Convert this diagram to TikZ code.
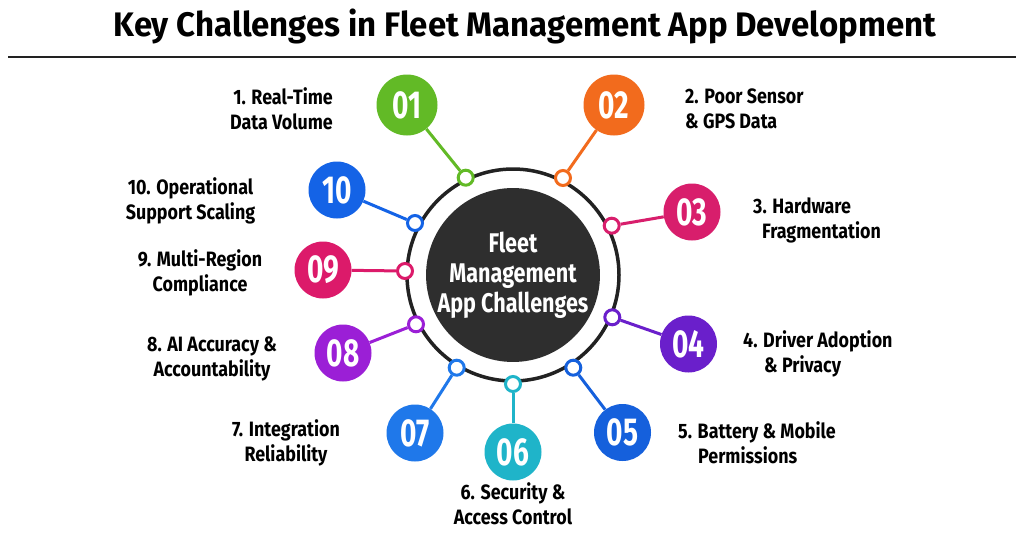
\documentclass[tikz,border=0pt]{standalone}
\usepackage{fontspec}
\newfontfamily\lblf{Fira Sans}[FakeStretch=0.86]
\newfontfamily\numf{Fira Sans}[FakeStretch=0.72]
\newfontfamily\ttlf{Fira Sans}[FakeStretch=0.97]
\newfontfamily\ctrf{Fira Sans}[FakeStretch=0.8]
\definecolor{cA}{HTML}{62BA26}
\definecolor{cB}{HTML}{F26B1D}
\definecolor{cC}{HTML}{D81E6C}
\definecolor{cD}{HTML}{6A1FCB}
\definecolor{cE}{HTML}{1560DC}
\definecolor{cF}{HTML}{1FB4C9}
\definecolor{cG}{HTML}{1F78EA}
\definecolor{cH}{HTML}{9B1FD6}
\definecolor{cI}{HTML}{DC1A6A}
\definecolor{cJ}{HTML}{1463E6}
\definecolor{darkc}{HTML}{2E2E2E}
\definecolor{ringc}{HTML}{222222}
\begin{document}
\begin{tikzpicture}[x=1pt,y=-1pt,
  bignum/.style={circle, inner sep=0pt, minimum size=57pt, text=white,
    font=\numf\bfseries\fontsize{39}{39}\selectfont},
  dot/.style={circle, draw, fill=white, line width=3pt, inner sep=0pt, minimum size=15pt},
  link/.style={line width=3pt},
  lbl/.style={font=\lblf\bfseries\fontsize{20.8}{25}\selectfont, text=black, inner sep=0pt}]
\useasboundingbox (0,0) rectangle (1024,535);
\fill[white] (0,0) rectangle (1024,535);

% title
\node[anchor=base, inner sep=0pt, font=\ttlf\bfseries\fontsize{34}{34}\selectfont] (title) at (525,37)
  {Key Challenges in Fleet Management App Development};
\coordinate (rl) at (8,57);
\coordinate (rr) at (1016,57);
\draw[line width=2pt, ringc] (rl) -- (rr);

% centre
\coordinate (ctr) at (513,275);
\node[circle, draw=ringc, line width=3.5pt, minimum size=212pt, inner sep=0pt] (ring) at (ctr) {};

% small dots
\node[dot, draw=cA] (s1) at (465.7,177.7) {};
\node[dot, draw=cB] (s2) at (563,178) {};
\node[dot, draw=cC] (s3) at (611.7,225.7) {};
\node[dot, draw=cD] (s4) at (612.3,317.3) {};
\node[dot, draw=cE] (s5) at (573.3,367.7) {};
\node[dot, draw=cF] (s6) at (513,384) {};
\node[dot, draw=cG] (s7) at (456.7,367.7) {};
\node[dot, draw=cH] (s8) at (416,324.3) {};
\node[dot, draw=cI] (s9) at (405,271) {};
\node[dot, draw=cJ] (s10) at (415,223) {};

% big number circles
\node[bignum, fill=cA, minimum size=61pt] (b1) at (407,105) {01};
\node[bignum, fill=cB, minimum size=61pt] (b2) at (614,105) {02};
\node[bignum, fill=cC] (b3) at (692,212) {03};
\node[bignum, fill=cD] (b4) at (688.5,344) {04};
\node[bignum, fill=cE] (b5) at (622.5,432.5) {05};
\node[bignum, fill=cF] (b6) at (513,452) {06};
\node[bignum, fill=cG] (b7) at (415,433) {07};
\node[bignum, fill=cH] (b8) at (343,353) {08};
\node[bignum, fill=cI] (b9) at (323,270) {09};
\node[bignum, fill=cJ] (b10) at (337,190) {10};

% connectors
\draw[link, cA] (b1) -- (s1);
\draw[link, cB] (b2) -- (s2);
\draw[link, cC] (b3) -- (s3);
\draw[link, cD] (b4) -- (s4);
\draw[link, cE] (b5) -- (s5);
\draw[link, cF] (b6) -- (s6);
\draw[link, cG] (b7) -- (s7);
\draw[link, cH] (b8) -- (s8);
\draw[link, cI] (b9) -- (s9);
\draw[link, cJ] (b10) -- (s10);

% dark centre
\node[circle, fill=darkc, minimum size=172pt, inner sep=0pt, text=white, align=center,
  font=\ctrf\bfseries\fontsize{27}{30}\selectfont] (core) at (ctr)
  {Fleet\\Management\\App Challenges};

% labels
\node[lbl, align=right, anchor=east] (l1) at (333,109) {1. Real-Time\\Data Volume};
\node[lbl, align=left, anchor=west] (l2) at (685,109) {2. Poor Sensor\\\& GPS Data};
\node[lbl, align=left, anchor=west] (l3) at (753,220.5) {3. Hardware\\\hspace*{9pt}Fragmentation};
\node[lbl, align=left, anchor=west] (l4) at (743,353.7) {4. Driver Adoption\\\hspace*{21pt}\& Privacy};
\node[lbl, align=left, anchor=west] (l5) at (678,442.5) {5. Battery \& Mobile\\\hspace*{20pt}Permissions};
\node[lbl, align=center] (l6) at (513,503.5) {6. Security \&\\Access Control};
\node[lbl, align=center] (l7) at (286,442.5) {7. Integration\\Reliability};
\node[lbl, align=center] (l8) at (212,359) {8. AI Accuracy \&\\Accountability};
\node[lbl, align=center] (l9) at (200,272.5) {9. Multi-Region\\Compliance};
\node[lbl, align=center] (l10) at (190.5,200.5) {10. Operational\\Support Scaling};
\end{tikzpicture}
\end{document}
